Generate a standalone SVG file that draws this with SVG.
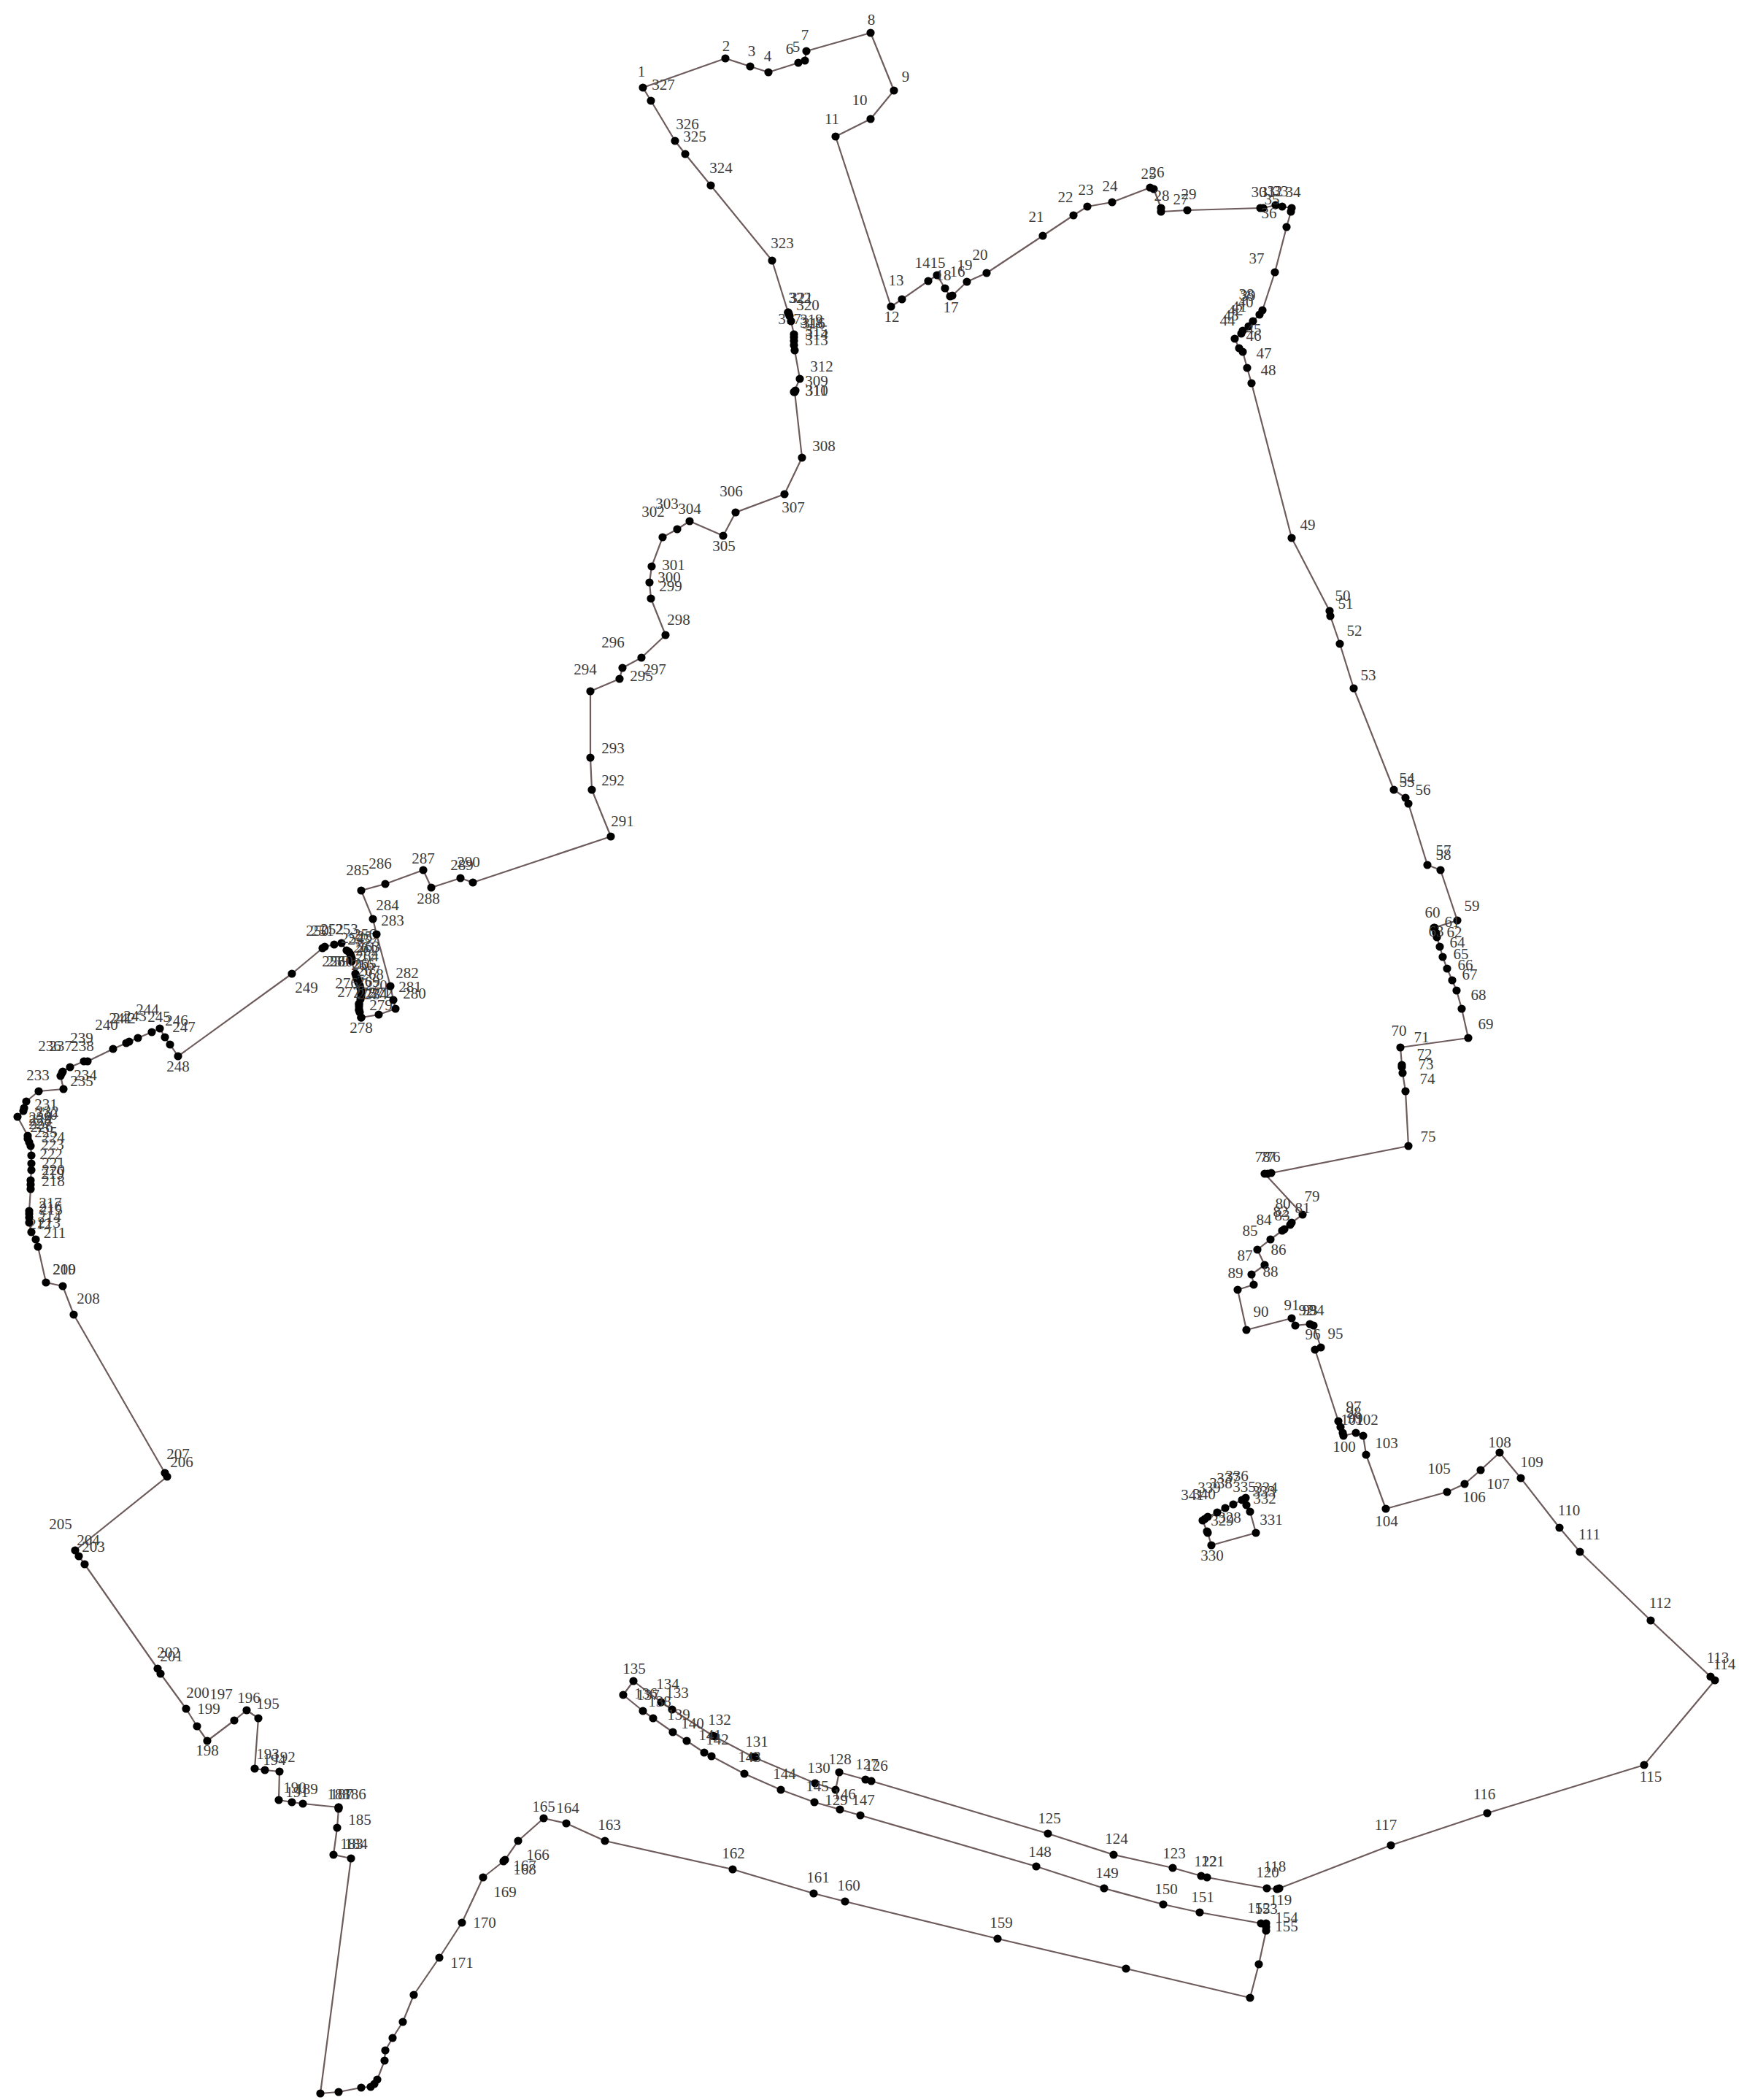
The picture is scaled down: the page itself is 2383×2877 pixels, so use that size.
<svg xmlns="http://www.w3.org/2000/svg" width="2383" height="2877" viewBox="0 0 2383 2877">
<style>
.c polyline,.c polygon{fill:none;stroke:#6e5c5c;stroke-width:2.2;stroke-linejoin:round}
circle{fill:#000;r:5.6px}
text{font-family:"Liberation Serif","Times New Roman",serif;font-size:21px;fill:#3c3c3c;text-anchor:middle}
</style>
<rect width="2383" height="2877" fill="#fff"/>
<g id="connectors" class="c">
<polygon points="881,120 994,80 1028,91 1053,99 1094,86 1103,83 1105,70 1193,45 1225,124 1193,163 1145,187 1221,420 1236,410 1272,385 1284,377 1295,395 1302,406 1305,405 1325,386 1352,374 1429,323 1471,295 1490,283 1524,277 1576,257 1581,259 1591,285 1591,290 1627,288 1727,285 1731,285 1748,281 1757,283 1770,285 1769,290 1763,311 1747,373 1730,425 1726,431 1717,440 1711,447 1703,453 1701,457 1692,464 1698,477 1703,482 1709,504 1715,525 1770,737 1822,837 1823,844 1836,882 1855,943 1910,1082 1926,1093 1930,1101 1956,1185 1974,1192 1997,1261 1965,1271 1966,1271 1968,1278 1969,1284 1973,1297 1977,1311 1983,1327 1990,1343 1996,1357 2003,1382 2012,1422 1919,1435 1921,1459 1921,1462 1922,1470 1926,1495 1930,1570 1742,1607 1737,1608 1733,1608 1785,1664 1770,1675 1768,1678 1760,1684 1757,1686 1741,1698 1723,1712 1733,1733 1715,1746 1718,1760 1696,1767 1708,1822 1770,1806 1775,1816 1795,1814 1800,1816 1810,1846 1802,1849 1834,1947 1837,1955 1840,1963 1841,1967 1858,1963 1868,1967 1872,1993 1899,2067 1983,2044 2007,2033 2029,2014 2055,1990 2084,2025 2137,2093 2165,2126 2262,2220 2344,2297 2350,2302 2253,2418 2038,2484 1906,2528 1753,2587 1750,2588 1736,2587 1654,2572 1646,2570 1607,2559 1526,2541 1436,2512 1194,2440 1186,2438 1150,2428 1145,2452 1117,2443 1032,2407 977,2378 921,2342 906,2332 868,2303 854,2322 881,2344 895,2354 922,2373 941,2385 965,2401 975,2406 1020,2430 1070,2452 1116,2469 1151,2479 1179,2487 1420,2557 1513,2587 1594,2609 1644,2620 1728,2635 1735,2635 1735,2640 1735,2645 1725,2691 1713,2737 1543,2697 1367,2656 1158,2605 1115,2594 1004,2561 829,2522 776,2498 745,2491 710,2522 692,2548 690,2550 662,2572 633,2634 602,2682 567,2733 552,2770 538,2792 528,2809 527,2823 517,2849 513,2855 508,2859 495,2860 464,2866 439,2868 481,2546 457,2541 462,2504 464,2478 464,2476 415,2471 400,2469 382,2466 383,2427 363,2425 349,2423 354,2354 338,2343 321,2357 284,2385 270,2365 255,2341 220,2293 216,2286 116,2143 108,2132 103,2124 229,2023 226,2018 101,1801 86,1762 63,1757 52,1708 49,1698 43,1688 40,1675 40,1668 40,1663 40,1659 42,1629 42,1623 42,1617 43,1603 43,1594 43,1583 42,1570 40,1565 38,1560 38,1556 24,1530 32,1522 33,1518 36,1509 53,1495 87,1492 83,1474 85,1470 86,1468 96,1462 115,1454 120,1454 155,1437 173,1429 177,1427 189,1422 208,1414 219,1409 226,1421 233,1431 244,1447 400,1334 442,1299 445,1297 458,1294 468,1292 475,1302 478,1304 480,1307 481,1310 482,1313 482,1317 487,1334 488,1337 489,1340 490,1343 491,1346 493,1350 494,1354 495,1358 495,1361 495,1365 494,1369 492,1375 492,1379 492,1383 493,1387 495,1394 519,1390 542,1382 539,1370 535,1351 516,1280 511,1259 495,1220 528,1211 580,1192 591,1216 631,1203 648,1209 837,1146 811,1082 809,1038 809,947 849,930 853,915 879,901 912,870 892,820 890,798 893,776 908,736 928,725 945,714 991,734 1008,702 1075,677 1099,627 1089,537 1090,535 1088,537 1096,519 1089,480 1088,473 1088,467 1088,462 1088,458 1084,440 1082,433 1081,430 1080,428 1058,357 974,254 939,211 925,193 892,138"/>
<polygon points="1654,2098 1655,2100 1660,2117 1721,2100 1713,2071 1708,2062 1707,2052 1702,2055 1690,2061 1679,2066 1668,2072 1655,2078 1651,2081 1648,2083"/>
</g>
<g id="n1"><circle cx="881" cy="120"/><text x="879" y="105">1</text></g>
<g id="n2"><circle cx="994" cy="80"/><text x="995" y="70">2</text></g>
<g id="n3"><circle cx="1028" cy="91"/><text x="1030" y="77">3</text></g>
<g id="n4"><circle cx="1053" cy="99"/><text x="1052" y="84">4</text></g>
<g id="n5"><circle cx="1094" cy="86"/><text x="1091" y="71">5</text></g>
<g id="n6"><circle cx="1103" cy="83"/><text x="1082" y="74">6</text></g>
<g id="n7"><circle cx="1105" cy="70"/><text x="1103" y="55">7</text></g>
<g id="n8"><circle cx="1193" cy="45"/><text x="1194" y="34">8</text></g>
<g id="n9"><circle cx="1225" cy="124"/><text x="1241" y="112">9</text></g>
<g id="n10"><circle cx="1193" cy="163"/><text x="1178" y="144">10</text></g>
<g id="n11"><circle cx="1145" cy="187"/><text x="1140" y="170">11</text></g>
<g id="n12"><circle cx="1221" cy="420"/><text x="1222" y="441">12</text></g>
<g id="n13"><circle cx="1236" cy="410"/><text x="1228" y="391">13</text></g>
<g id="n14"><circle cx="1272" cy="385"/><text x="1264" y="367">14</text></g>
<g id="n15"><circle cx="1284" cy="377"/><text x="1285" y="367">15</text></g>
<g id="n16"><circle cx="1295" cy="395"/><text x="1312" y="379">16</text></g>
<g id="n17"><circle cx="1302" cy="406"/><text x="1303" y="428">17</text></g>
<g id="n18"><circle cx="1305" cy="405"/><text x="1293" y="384">18</text></g>
<g id="n19"><circle cx="1325" cy="386"/><text x="1322" y="370">19</text></g>
<g id="n20"><circle cx="1352" cy="374"/><text x="1343" y="356">20</text></g>
<g id="n21"><circle cx="1429" cy="323"/><text x="1420" y="304">21</text></g>
<g id="n22"><circle cx="1471" cy="295"/><text x="1460" y="277">22</text></g>
<g id="n23"><circle cx="1490" cy="283"/><text x="1488" y="267">23</text></g>
<g id="n24"><circle cx="1524" cy="277"/><text x="1521" y="262">24</text></g>
<g id="n25"><circle cx="1576" cy="257"/><text x="1574" y="245">25</text></g>
<g id="n26"><circle cx="1581" cy="259"/><text x="1585" y="243">26</text></g>
<g id="n27"><circle cx="1591" cy="285"/><text x="1618" y="280">27</text></g>
<g id="n28"><circle cx="1591" cy="290"/><text x="1592" y="275">28</text></g>
<g id="n29"><circle cx="1627" cy="288"/><text x="1629" y="273">29</text></g>
<g id="n30"><circle cx="1727" cy="285"/><text x="1725" y="270">30</text></g>
<g id="n31"><circle cx="1731" cy="285"/><text x="1737" y="270">31</text></g>
<g id="n32"><circle cx="1748" cy="281"/><text x="1747" y="269">32</text></g>
<g id="n33"><circle cx="1757" cy="283"/><text x="1755" y="269">33</text></g>
<g id="n34"><circle cx="1770" cy="285"/><text x="1772" y="270">34</text></g>
<g id="n35"><circle cx="1769" cy="290"/><text x="1743" y="280">35</text></g>
<g id="n36"><circle cx="1763" cy="311"/><text x="1739" y="299">36</text></g>
<g id="n37"><circle cx="1747" cy="373"/><text x="1722" y="361">37</text></g>
<g id="n38"><circle cx="1730" cy="425"/><text x="1708" y="410">38</text></g>
<g id="n39"><circle cx="1726" cy="431"/><text x="1710" y="412">39</text></g>
<g id="n40"><circle cx="1717" cy="440"/><text x="1707" y="421">40</text></g>
<g id="n41"><circle cx="1711" cy="447"/><text x="1698" y="427">41</text></g>
<g id="n42"><circle cx="1703" cy="453"/><text x="1693" y="432">42</text></g>
<g id="n43"><circle cx="1701" cy="457"/><text x="1687" y="439">43</text></g>
<g id="n44"><circle cx="1692" cy="464"/><text x="1682" y="446">44</text></g>
<g id="n45"><circle cx="1698" cy="477"/><text x="1718" y="458">45</text></g>
<g id="n46"><circle cx="1703" cy="482"/><text x="1718" y="467">46</text></g>
<g id="n47"><circle cx="1709" cy="504"/><text x="1732" y="491">47</text></g>
<g id="n48"><circle cx="1715" cy="525"/><text x="1738" y="514">48</text></g>
<g id="n49"><circle cx="1770" cy="737"/><text x="1792" y="726">49</text></g>
<g id="n50"><circle cx="1822" cy="837"/><text x="1840" y="823">50</text></g>
<g id="n51"><circle cx="1823" cy="844"/><text x="1844" y="834">51</text></g>
<g id="n52"><circle cx="1836" cy="882"/><text x="1856" y="871">52</text></g>
<g id="n53"><circle cx="1855" cy="943"/><text x="1875" y="932">53</text></g>
<g id="n54"><circle cx="1910" cy="1082"/><text x="1928" y="1073">54</text></g>
<g id="n55"><circle cx="1926" cy="1093"/><text x="1928" y="1078">55</text></g>
<g id="n56"><circle cx="1930" cy="1101"/><text x="1950" y="1089">56</text></g>
<g id="n57"><circle cx="1956" cy="1185"/><text x="1978" y="1172">57</text></g>
<g id="n58"><circle cx="1974" cy="1192"/><text x="1978" y="1178">58</text></g>
<g id="n59"><circle cx="1997" cy="1261"/><text x="2017" y="1248">59</text></g>
<g id="n60"><circle cx="1965" cy="1271"/><text x="1963" y="1257">60</text></g>
<g id="n61"><circle cx="1966" cy="1271"/><text x="1990" y="1270">61</text></g>
<g id="n62"><circle cx="1968" cy="1278"/><text x="1993" y="1284">62</text></g>
<g id="n63"><circle cx="1969" cy="1284"/><text x="1968" y="1283">63</text></g>
<g id="n64"><circle cx="1973" cy="1297"/><text x="1997" y="1298">64</text></g>
<g id="n65"><circle cx="1977" cy="1311"/><text x="2002" y="1314">65</text></g>
<g id="n66"><circle cx="1983" cy="1327"/><text x="2008" y="1329">66</text></g>
<g id="n67"><circle cx="1990" cy="1343"/><text x="2014" y="1342">67</text></g>
<g id="n68"><circle cx="1996" cy="1357"/><text x="2026" y="1370">68</text></g>
<g id="n69"><circle cx="2003" cy="1382"/><text x="2036" y="1410">69</text></g>
<g id="n70"><circle cx="2012" cy="1422"/><text x="1917" y="1419">70</text></g>
<g id="n71"><circle cx="1919" cy="1435"/><text x="1948" y="1428">71</text></g>
<g id="n72"><circle cx="1921" cy="1459"/><text x="1952" y="1451">72</text></g>
<g id="n73"><circle cx="1921" cy="1462"/><text x="1954" y="1465">73</text></g>
<g id="n74"><circle cx="1922" cy="1470"/><text x="1956" y="1485">74</text></g>
<g id="n75"><circle cx="1926" cy="1495"/><text x="1957" y="1564">75</text></g>
<g id="n75b"><circle cx="1930" cy="1570"/></g>
<g id="n76"><circle cx="1742" cy="1607"/><text x="1744" y="1592">76</text></g>
<g id="n77"><circle cx="1737" cy="1608"/><text x="1737" y="1592">77</text></g>
<g id="n78"><circle cx="1733" cy="1608"/><text x="1730" y="1592">78</text></g>
<g id="n79"><circle cx="1785" cy="1664"/><text x="1798" y="1646">79</text></g>
<g id="n80"><circle cx="1770" cy="1675"/><text x="1758" y="1656">80</text></g>
<g id="n81"><circle cx="1768" cy="1678"/><text x="1785" y="1662">81</text></g>
<g id="n82"><circle cx="1760" cy="1684"/><text x="1755" y="1667">82</text></g>
<g id="n83"><circle cx="1757" cy="1686"/><text x="1757" y="1672">83</text></g>
<g id="n84"><circle cx="1741" cy="1698"/><text x="1732" y="1678">84</text></g>
<g id="n85"><circle cx="1723" cy="1712"/><text x="1713" y="1693">85</text></g>
<g id="n86"><circle cx="1733" cy="1733"/><text x="1752" y="1719">86</text></g>
<g id="n87"><circle cx="1715" cy="1746"/><text x="1706" y="1727">87</text></g>
<g id="n88"><circle cx="1718" cy="1760"/><text x="1741" y="1749">88</text></g>
<g id="n89"><circle cx="1696" cy="1767"/><text x="1693" y="1751">89</text></g>
<g id="n90"><circle cx="1708" cy="1822"/><text x="1728" y="1804">90</text></g>
<g id="n91"><circle cx="1770" cy="1806"/><text x="1770" y="1795">91</text></g>
<g id="n92"><circle cx="1775" cy="1816"/><text x="1790" y="1802">92</text></g>
<g id="n93"><circle cx="1795" cy="1814"/><text x="1795" y="1802">93</text></g>
<g id="n94"><circle cx="1800" cy="1816"/><text x="1804" y="1802">94</text></g>
<g id="n95"><circle cx="1810" cy="1846"/><text x="1830" y="1834">95</text></g>
<g id="n96"><circle cx="1802" cy="1849"/><text x="1799" y="1835">96</text></g>
<g id="n97"><circle cx="1834" cy="1947"/><text x="1855" y="1934">97</text></g>
<g id="n98"><circle cx="1837" cy="1955"/><text x="1855" y="1942">98</text></g>
<g id="n99"><circle cx="1840" cy="1963"/><text x="1857" y="1950">99</text></g>
<g id="n100"><circle cx="1841" cy="1967"/><text x="1842" y="1989">100</text></g>
<g id="n101"><circle cx="1858" cy="1963"/><text x="1853" y="1952">101</text></g>
<g id="n102"><circle cx="1868" cy="1967"/><text x="1873" y="1952">102</text></g>
<g id="n103"><circle cx="1872" cy="1993"/><text x="1900" y="1984">103</text></g>
<g id="n104"><circle cx="1899" cy="2067"/><text x="1900" y="2091">104</text></g>
<g id="n105"><circle cx="1983" cy="2044"/><text x="1972" y="2019">105</text></g>
<g id="n106"><circle cx="2007" cy="2033"/><text x="2020" y="2058">106</text></g>
<g id="n107"><circle cx="2029" cy="2014"/><text x="2053" y="2040">107</text></g>
<g id="n108"><circle cx="2055" cy="1990"/><text x="2055" y="1983">108</text></g>
<g id="n109"><circle cx="2084" cy="2025"/><text x="2099" y="2010">109</text></g>
<g id="n110"><circle cx="2137" cy="2093"/><text x="2150" y="2076">110</text></g>
<g id="n111"><circle cx="2165" cy="2126"/><text x="2178" y="2109">111</text></g>
<g id="n112"><circle cx="2262" cy="2220"/><text x="2275" y="2203">112</text></g>
<g id="n113"><circle cx="2344" cy="2297"/><text x="2354" y="2278">113</text></g>
<g id="n114"><circle cx="2350" cy="2302"/><text x="2363" y="2287">114</text></g>
<g id="n115"><circle cx="2253" cy="2418"/><text x="2262" y="2441">115</text></g>
<g id="n116"><circle cx="2038" cy="2484"/><text x="2034" y="2465">116</text></g>
<g id="n117"><circle cx="1906" cy="2528"/><text x="1899" y="2507">117</text></g>
<g id="n118"><circle cx="1753" cy="2587"/><text x="1747" y="2564">118</text></g>
<g id="n119"><circle cx="1750" cy="2588"/><text x="1755" y="2610">119</text></g>
<g id="n120"><circle cx="1736" cy="2587"/><text x="1737" y="2572">120</text></g>
<g id="n121"><circle cx="1654" cy="2572"/><text x="1662" y="2557">121</text></g>
<g id="n122"><circle cx="1646" cy="2570"/><text x="1652" y="2557">122</text></g>
<g id="n123"><circle cx="1607" cy="2559"/><text x="1609" y="2546">123</text></g>
<g id="n124"><circle cx="1526" cy="2541"/><text x="1530" y="2526">124</text></g>
<g id="n125"><circle cx="1436" cy="2512"/><text x="1438" y="2498">125</text></g>
<g id="n126"><circle cx="1194" cy="2440"/><text x="1201" y="2426">126</text></g>
<g id="n127"><circle cx="1186" cy="2438"/><text x="1188" y="2424">127</text></g>
<g id="n128"><circle cx="1150" cy="2428"/><text x="1151" y="2417">128</text></g>
<g id="n129"><circle cx="1145" cy="2452"/><text x="1146" y="2473">129</text></g>
<g id="n130"><circle cx="1117" cy="2443"/><text x="1122" y="2429">130</text></g>
<g id="n131"><circle cx="1032" cy="2407"/><circle cx="1035" cy="2407"/><text x="1037" y="2393">131</text></g>
<g id="n132"><circle cx="977" cy="2378"/><circle cx="980" cy="2379"/><text x="986" y="2363">132</text></g>
<g id="n133"><circle cx="921" cy="2342"/><text x="928" y="2326">133</text></g>
<g id="n134"><circle cx="906" cy="2332"/><text x="915" y="2314">134</text></g>
<g id="n135"><circle cx="868" cy="2303"/><text x="869" y="2293">135</text></g>
<g id="n136"><circle cx="854" cy="2322"/><text x="885" y="2327">136</text></g>
<g id="n137"><circle cx="881" cy="2344"/><text x="888" y="2329">137</text></g>
<g id="n138"><circle cx="895" cy="2354"/><text x="904" y="2338">138</text></g>
<g id="n139"><circle cx="922" cy="2373"/><text x="930" y="2356">139</text></g>
<g id="n140"><circle cx="941" cy="2385"/><text x="949" y="2368">140</text></g>
<g id="n141"><circle cx="965" cy="2401"/><text x="973" y="2384">141</text></g>
<g id="n142"><circle cx="975" cy="2406"/><text x="983" y="2390">142</text></g>
<g id="n143"><circle cx="1020" cy="2430"/><text x="1027" y="2414">143</text></g>
<g id="n144"><circle cx="1070" cy="2452"/><text x="1075" y="2437">144</text></g>
<g id="n145"><circle cx="1116" cy="2469"/><text x="1120" y="2454">145</text></g>
<g id="n146"><circle cx="1151" cy="2479"/><text x="1157" y="2465">146</text></g>
<g id="n147"><circle cx="1179" cy="2487"/><text x="1183" y="2473">147</text></g>
<g id="n148"><circle cx="1420" cy="2557"/><text x="1425" y="2544">148</text></g>
<g id="n149"><circle cx="1513" cy="2587"/><text x="1517" y="2573">149</text></g>
<g id="n150"><circle cx="1594" cy="2609"/><text x="1598" y="2595">150</text></g>
<g id="n151"><circle cx="1644" cy="2620"/><text x="1648" y="2606">151</text></g>
<g id="n152"><circle cx="1728" cy="2635"/><text x="1725" y="2621">152</text></g>
<g id="n153"><circle cx="1735" cy="2635"/><text x="1735" y="2622">153</text></g>
<g id="n154"><circle cx="1735" cy="2640"/><text x="1763" y="2634">154</text></g>
<g id="n155"><circle cx="1735" cy="2645"/><text x="1763" y="2646">155</text></g>
<g id="n156"><circle cx="1725" cy="2691"/></g>
<g id="n157"><circle cx="1713" cy="2737"/></g>
<g id="n158"><circle cx="1543" cy="2697"/></g>
<g id="n159"><circle cx="1367" cy="2656"/><text x="1372" y="2641">159</text></g>
<g id="n160"><circle cx="1158" cy="2605"/><text x="1163" y="2590">160</text></g>
<g id="n161"><circle cx="1115" cy="2594"/><text x="1121" y="2579">161</text></g>
<g id="n162"><circle cx="1004" cy="2561"/><text x="1005" y="2546">162</text></g>
<g id="n163"><circle cx="829" cy="2522"/><text x="835" y="2507">163</text></g>
<g id="n164"><circle cx="776" cy="2498"/><text x="778" y="2484">164</text></g>
<g id="n165"><circle cx="745" cy="2491"/><text x="745" y="2482">165</text></g>
<g id="n166"><circle cx="710" cy="2522"/><text x="737" y="2548">166</text></g>
<g id="n167"><circle cx="692" cy="2548"/><text x="719" y="2563">167</text></g>
<g id="n168"><circle cx="690" cy="2550"/><text x="719" y="2568">168</text></g>
<g id="n169"><circle cx="662" cy="2572"/><text x="692" y="2599">169</text></g>
<g id="n170"><circle cx="633" cy="2634"/><text x="664" y="2641">170</text></g>
<g id="n171"><circle cx="602" cy="2682"/><text x="633" y="2696">171</text></g>
<g id="n172"><circle cx="567" cy="2733"/></g>
<g id="n173"><circle cx="552" cy="2770"/></g>
<g id="n174"><circle cx="538" cy="2792"/></g>
<g id="n175"><circle cx="528" cy="2809"/></g>
<g id="n176"><circle cx="527" cy="2823"/></g>
<g id="n177"><circle cx="517" cy="2849"/></g>
<g id="n178"><circle cx="513" cy="2855"/></g>
<g id="n179"><circle cx="508" cy="2859"/></g>
<g id="n180"><circle cx="495" cy="2860"/></g>
<g id="n181"><circle cx="464" cy="2866"/></g>
<g id="n182"><circle cx="439" cy="2868"/></g>
<g id="n183"><circle cx="481" cy="2546"/><text x="482" y="2533">183</text></g>
<g id="n184"><circle cx="457" cy="2541"/><text x="488" y="2533">184</text></g>
<g id="n185"><circle cx="462" cy="2504"/><text x="493" y="2500">185</text></g>
<g id="n186"><circle cx="464" cy="2478"/><text x="486" y="2465">186</text></g>
<g id="n187"><circle cx="464" cy="2476"/><text x="468" y="2465">187</text></g>
<g id="n188"><circle cx="464" cy="2476"/><text x="464" y="2465">188</text></g>
<g id="n189"><circle cx="415" cy="2471"/><text x="420" y="2458">189</text></g>
<g id="n190"><circle cx="400" cy="2469"/><text x="404" y="2456">190</text></g>
<g id="n191"><circle cx="382" cy="2466"/><text x="407" y="2462">191</text></g>
<g id="n192"><circle cx="383" cy="2427"/><text x="389" y="2414">192</text></g>
<g id="n193"><circle cx="363" cy="2425"/><text x="367" y="2410">193</text></g>
<g id="n194"><circle cx="349" cy="2423"/><text x="376" y="2418">194</text></g>
<g id="n195"><circle cx="354" cy="2354"/><text x="367" y="2341">195</text></g>
<g id="n196"><circle cx="338" cy="2343"/><text x="341" y="2333">196</text></g>
<g id="n197"><circle cx="321" cy="2357"/><text x="303" y="2328">197</text></g>
<g id="n198"><circle cx="284" cy="2385"/><text x="284" y="2405">198</text></g>
<g id="n199"><circle cx="270" cy="2365"/><text x="286" y="2348">199</text></g>
<g id="n200"><circle cx="255" cy="2341"/><text x="271" y="2326">200</text></g>
<g id="n201"><circle cx="220" cy="2293"/><text x="235" y="2276">201</text></g>
<g id="n202"><circle cx="216" cy="2286"/><text x="231" y="2271">202</text></g>
<g id="n203"><circle cx="116" cy="2143"/><text x="128" y="2126">203</text></g>
<g id="n204"><circle cx="108" cy="2132"/><text x="121" y="2117">204</text></g>
<g id="n205"><circle cx="103" cy="2124"/><text x="83" y="2095">205</text></g>
<g id="n206"><circle cx="229" cy="2023"/><text x="249" y="2010">206</text></g>
<g id="n207"><circle cx="226" cy="2018"/><text x="244" y="1999">207</text></g>
<g id="n208"><circle cx="101" cy="1801"/><text x="121" y="1786">208</text></g>
<g id="n209"><circle cx="86" cy="1762"/><text x="88" y="1746">209</text></g>
<g id="n210"><circle cx="63" cy="1757"/><text x="88" y="1746">210</text></g>
<g id="n211"><circle cx="52" cy="1708"/><text x="75" y="1696">211</text></g>
<g id="n212"><circle cx="49" cy="1698"/><text x="55" y="1684">212</text></g>
<g id="n213"><circle cx="43" cy="1688"/><text x="67" y="1682">213</text></g>
<g id="n214"><circle cx="40" cy="1675"/><text x="68" y="1674">214</text></g>
<g id="n215"><circle cx="40" cy="1668"/><text x="70" y="1664">215</text></g>
<g id="n216"><circle cx="40" cy="1663"/><text x="69" y="1660">216</text></g>
<g id="n217"><circle cx="40" cy="1659"/><text x="69" y="1655">217</text></g>
<g id="n218"><circle cx="42" cy="1629"/><text x="73" y="1625">218</text></g>
<g id="n219"><circle cx="42" cy="1623"/><text x="72" y="1615">219</text></g>
<g id="n220"><circle cx="42" cy="1617"/><text x="73" y="1610">220</text></g>
<g id="n221"><circle cx="43" cy="1603"/><text x="73" y="1600">221</text></g>
<g id="n222"><circle cx="43" cy="1594"/><text x="70" y="1588">222</text></g>
<g id="n223"><circle cx="43" cy="1583"/><text x="72" y="1575">223</text></g>
<g id="n224"><circle cx="42" cy="1570"/><text x="73" y="1565">224</text></g>
<g id="n225"><circle cx="40" cy="1565"/><text x="63" y="1558">225</text></g>
<g id="n226"><circle cx="38" cy="1560"/><text x="57" y="1551">226</text></g>
<g id="n227"><circle cx="38" cy="1556"/><text x="55" y="1547">227</text></g>
<g id="n228"><circle cx="24" cy="1530"/><text x="55" y="1542">228</text></g>
<g id="n229"><circle cx="32" cy="1522"/><text x="55" y="1538">229</text></g>
<g id="n230"><circle cx="33" cy="1518"/><text x="63" y="1534">230</text></g>
<g id="n231"><circle cx="36" cy="1509"/><text x="63" y="1520">231</text></g>
<g id="n232"><circle cx="53" cy="1495"/><text x="65" y="1530">232</text></g>
<g id="n233"><circle cx="87" cy="1492"/><text x="52" y="1480">233</text></g>
<g id="n234"><circle cx="83" cy="1474"/><text x="117" y="1480">234</text></g>
<g id="n235"><circle cx="85" cy="1470"/><text x="112" y="1488">235</text></g>
<g id="n236"><circle cx="86" cy="1468"/><text x="68" y="1440">236</text></g>
<g id="n237"><circle cx="96" cy="1462"/><text x="83" y="1440">237</text></g>
<g id="n238"><circle cx="115" cy="1454"/><text x="113" y="1440">238</text></g>
<g id="n239"><circle cx="120" cy="1454"/><text x="112" y="1429">239</text></g>
<g id="n240"><circle cx="155" cy="1437"/><text x="146" y="1411">240</text></g>
<g id="n241"><circle cx="173" cy="1429"/><text x="165" y="1402">241</text></g>
<g id="n242"><circle cx="177" cy="1427"/><text x="170" y="1402">242</text></g>
<g id="n243"><circle cx="189" cy="1422"/><text x="185" y="1399">243</text></g>
<g id="n244"><circle cx="208" cy="1414"/><text x="202" y="1390">244</text></g>
<g id="n245"><circle cx="219" cy="1409"/><text x="218" y="1400">245</text></g>
<g id="n246"><circle cx="226" cy="1421"/><text x="242" y="1405">246</text></g>
<g id="n247"><circle cx="233" cy="1431"/><text x="252" y="1414">247</text></g>
<g id="n248"><circle cx="244" cy="1447"/><text x="244" y="1468">248</text></g>
<g id="n249"><circle cx="400" cy="1334"/><text x="420" y="1360">249</text></g>
<g id="n250"><circle cx="442" cy="1299"/><text x="435" y="1282">250</text></g>
<g id="n251"><circle cx="445" cy="1297"/><text x="442" y="1282">251</text></g>
<g id="n252"><circle cx="458" cy="1294"/><text x="455" y="1280">252</text></g>
<g id="n253"><circle cx="468" cy="1292"/><text x="475" y="1280">253</text></g>
<g id="n254"><circle cx="475" cy="1302"/><text x="483" y="1292">254</text></g>
<g id="n255"><circle cx="478" cy="1304"/><text x="492" y="1294">255</text></g>
<g id="n256"><circle cx="480" cy="1307"/><text x="500" y="1287">256</text></g>
<g id="n257"><circle cx="481" cy="1310"/><text x="505" y="1290">257</text></g>
<g id="n258"><circle cx="482" cy="1313"/><text x="457" y="1324">258</text></g>
<g id="n259"><circle cx="482" cy="1317"/><text x="463" y="1324">259</text></g>
<g id="n260"><circle cx="487" cy="1334"/><text x="468" y="1324">260</text></g>
<g id="n261"><circle cx="488" cy="1337"/><text x="500" y="1305">261</text></g>
<g id="n262"><circle cx="489" cy="1340"/><text x="503" y="1309">262</text></g>
<g id="n263"><circle cx="490" cy="1343"/><text x="505" y="1304">263</text></g>
<g id="n264"><circle cx="491" cy="1346"/><text x="503" y="1317">264</text></g>
<g id="n265"><circle cx="493" cy="1350"/><text x="500" y="1327">265</text></g>
<g id="n266"><circle cx="494" cy="1354"/><text x="497" y="1329">266</text></g>
<g id="n267"><circle cx="495" cy="1358"/><text x="505" y="1337">267</text></g>
<g id="n268"><circle cx="495" cy="1361"/><text x="510" y="1342">268</text></g>
<g id="n269"><circle cx="495" cy="1365"/><text x="505" y="1352">269</text></g>
<g id="n270"><circle cx="494" cy="1369"/><text x="515" y="1357">270</text></g>
<g id="n271"><circle cx="492" cy="1375"/><text x="520" y="1367">271</text></g>
<g id="n272"><circle cx="492" cy="1379"/><text x="523" y="1367">272</text></g>
<g id="n273"><circle cx="492" cy="1383"/><text x="505" y="1369">273</text></g>
<g id="n274"><circle cx="493" cy="1387"/><text x="515" y="1369">274</text></g>
<g id="n275"><circle cx="495" cy="1394"/><text x="500" y="1367">275</text></g>
<g id="n276"><circle cx="492" cy="1376"/><text x="475" y="1354">276</text></g>
<g id="n277"><circle cx="492" cy="1384"/><text x="478" y="1366">277</text></g>
<g id="n278"><circle cx="495" cy="1394"/><text x="495" y="1415">278</text></g>
<g id="n279"><circle cx="519" cy="1390"/><text x="522" y="1384">279</text></g>
<g id="n280"><circle cx="542" cy="1382"/><text x="568" y="1368">280</text></g>
<g id="n281"><circle cx="539" cy="1370"/><text x="562" y="1359">281</text></g>
<g id="n282"><circle cx="535" cy="1351"/><text x="558" y="1340">282</text></g>
<g id="n283"><circle cx="516" cy="1280"/><text x="538" y="1268">283</text></g>
<g id="n284"><circle cx="511" cy="1259"/><text x="531" y="1247">284</text></g>
<g id="n285"><circle cx="495" cy="1220"/><text x="490" y="1199">285</text></g>
<g id="n286"><circle cx="528" cy="1211"/><text x="521" y="1190">286</text></g>
<g id="n287"><circle cx="580" cy="1192"/><text x="580" y="1183">287</text></g>
<g id="n288"><circle cx="591" cy="1216"/><text x="587" y="1238">288</text></g>
<g id="n289"><circle cx="631" cy="1203"/><text x="633" y="1192">289</text></g>
<g id="n290"><circle cx="648" cy="1209"/><text x="642" y="1188">290</text></g>
<g id="n291"><circle cx="837" cy="1146"/><text x="853" y="1132">291</text></g>
<g id="n292"><circle cx="811" cy="1082"/><text x="840" y="1076">292</text></g>
<g id="n293"><circle cx="809" cy="1038"/><text x="840" y="1032">293</text></g>
<g id="n294"><circle cx="809" cy="947"/><text x="802" y="924">294</text></g>
<g id="n295"><circle cx="849" cy="930"/><text x="879" y="933">295</text></g>
<g id="n296"><circle cx="853" cy="915"/><text x="840" y="887">296</text></g>
<g id="n297"><circle cx="879" cy="901"/><text x="897" y="924">297</text></g>
<g id="n298"><circle cx="912" cy="870"/><text x="930" y="856">298</text></g>
<g id="n299"><circle cx="892" cy="820"/><text x="919" y="810">299</text></g>
<g id="n300"><circle cx="890" cy="798"/><text x="917" y="798">300</text></g>
<g id="n301"><circle cx="893" cy="776"/><text x="923" y="781">301</text></g>
<g id="n302"><circle cx="908" cy="736"/><text x="895" y="708">302</text></g>
<g id="n303"><circle cx="928" cy="725"/><text x="914" y="697">303</text></g>
<g id="n304"><circle cx="945" cy="714"/><text x="945" y="704">304</text></g>
<g id="n305"><circle cx="991" cy="734"/><text x="992" y="755">305</text></g>
<g id="n306"><circle cx="1008" cy="702"/><text x="1002" y="680">306</text></g>
<g id="n307"><circle cx="1075" cy="677"/><text x="1087" y="702">307</text></g>
<g id="n308"><circle cx="1099" cy="627"/><text x="1129" y="618">308</text></g>
<g id="n309"><circle cx="1089" cy="537"/><text x="1119" y="529">309</text></g>
<g id="n310"><circle cx="1090" cy="535"/><text x="1119" y="542">310</text></g>
<g id="n311"><circle cx="1088" cy="537"/><text x="1119" y="542">311</text></g>
<g id="n312"><circle cx="1096" cy="519"/><text x="1126" y="509">312</text></g>
<g id="n313"><circle cx="1089" cy="480"/><text x="1119" y="473">313</text></g>
<g id="n314"><circle cx="1088" cy="473"/><text x="1119" y="465">314</text></g>
<g id="n315"><circle cx="1088" cy="467"/><text x="1119" y="460">315</text></g>
<g id="n316"><circle cx="1088" cy="462"/><text x="1115" y="450">316</text></g>
<g id="n317"><circle cx="1088" cy="458"/><text x="1082" y="444">317</text></g>
<g id="n318"><circle cx="1084" cy="440"/><text x="1112" y="449">318</text></g>
<g id="n319"><circle cx="1082" cy="433"/><text x="1112" y="445">319</text></g>
<g id="n320"><circle cx="1081" cy="430"/><text x="1107" y="425">320</text></g>
<g id="n321"><circle cx="1080" cy="428"/><text x="1098" y="415">321</text></g>
<g id="n322"><circle cx="1080" cy="428"/><text x="1096" y="415">322</text></g>
<g id="n323"><circle cx="1058" cy="357"/><text x="1072" y="340">323</text></g>
<g id="n324"><circle cx="974" cy="254"/><text x="988" y="237">324</text></g>
<g id="n325"><circle cx="939" cy="211"/><text x="952" y="194">325</text></g>
<g id="n326"><circle cx="925" cy="193"/><text x="942" y="177">326</text></g>
<g id="n327"><circle cx="892" cy="138"/><text x="909" y="123">327</text></g>
<g id="n328"><circle cx="1654" cy="2098"/><text x="1685" y="2086">328</text></g>
<g id="n329"><circle cx="1655" cy="2100"/><text x="1675" y="2090">329</text></g>
<g id="n330"><circle cx="1660" cy="2117"/><text x="1661" y="2138">330</text></g>
<g id="n331"><circle cx="1721" cy="2100"/><text x="1742" y="2089">331</text></g>
<g id="n332"><circle cx="1713" cy="2071"/><text x="1733" y="2060">332</text></g>
<g id="n333"><circle cx="1708" cy="2062"/><text x="1732" y="2050">333</text></g>
<g id="n334"><circle cx="1707" cy="2052"/><text x="1735" y="2045">334</text></g>
<g id="n335"><circle cx="1702" cy="2055"/><text x="1705" y="2044">335</text></g>
<g id="n336"><circle cx="1690" cy="2061"/><text x="1695" y="2029">336</text></g>
<g id="n337"><circle cx="1679" cy="2066"/><text x="1683" y="2032">337</text></g>
<g id="n338"><circle cx="1668" cy="2072"/><text x="1673" y="2039">338</text></g>
<g id="n339"><circle cx="1655" cy="2078"/><text x="1657" y="2045">339</text></g>
<g id="n340"><circle cx="1651" cy="2081"/><text x="1650" y="2054">340</text></g>
<g id="n341"><circle cx="1648" cy="2083"/><text x="1634" y="2055">341</text></g>
</svg>
